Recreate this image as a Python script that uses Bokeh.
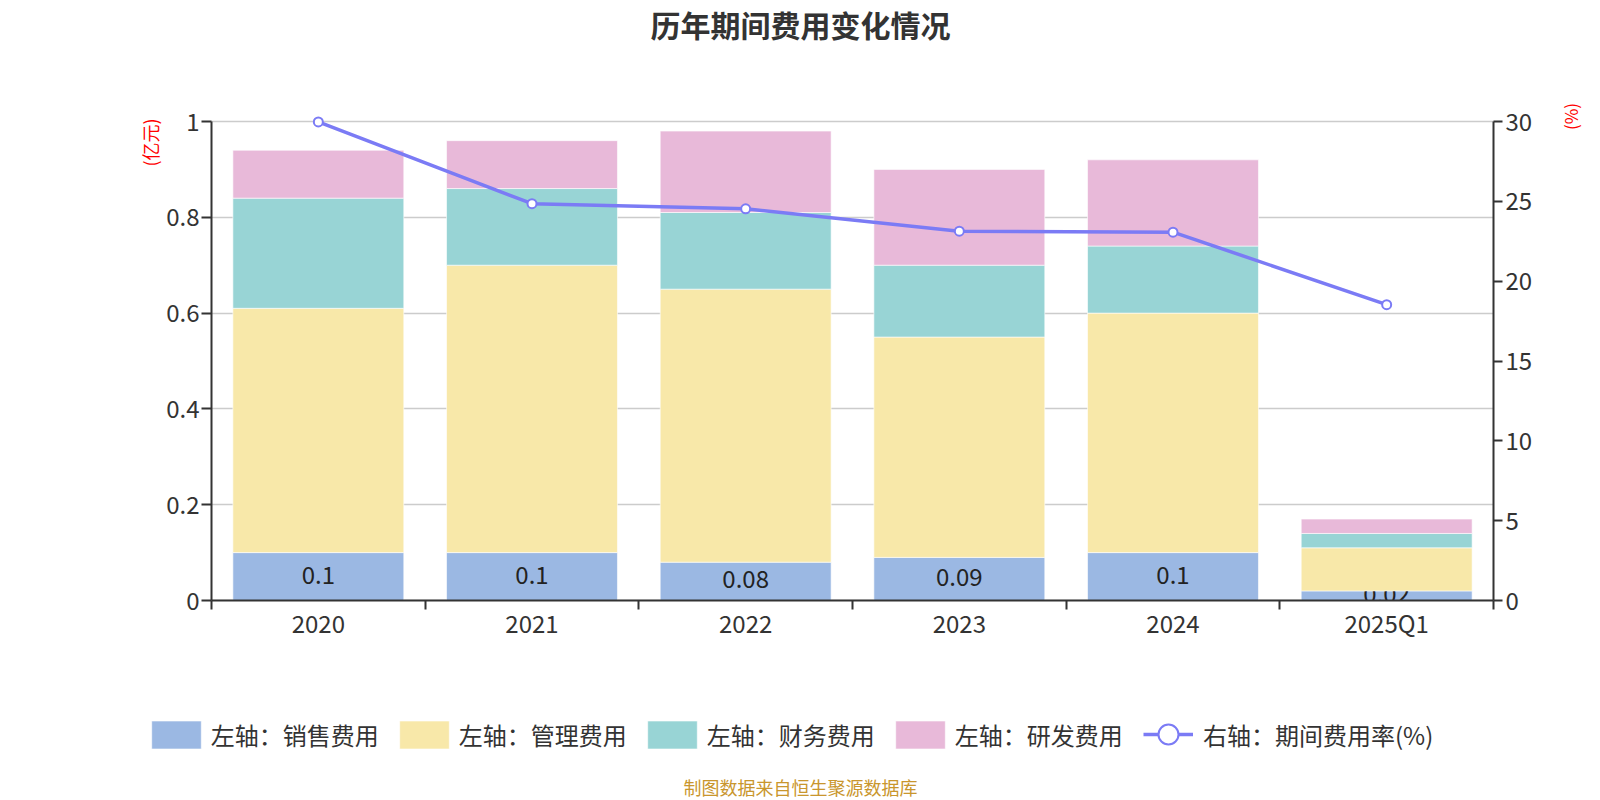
import numpy as np
from bokeh.plotting import figure
from bokeh.models import (Range1d, LinearAxis, FixedTicker, CustomJSTickFormatter,
                          Label, Legend, LegendItem, BoxAnnotation)
from bokeh.core.properties import value
from bokeh.embed import file_html
from bokeh.resources import INLINE

# ---------------- data ----------------
categories = ["2020", "2021", "2022", "2023", "2024", "2025Q1"]
sales = [0.10, 0.10, 0.08, 0.09, 0.10, 0.02]      # 销售费用 (亿元)
admin = [0.51, 0.60, 0.57, 0.46, 0.50, 0.09]      # 管理费用 (亿元)
finance = [0.23, 0.16, 0.16, 0.15, 0.14, 0.03]    # 财务费用 (亿元)
rnd = [0.10, 0.10, 0.17, 0.20, 0.18, 0.03]        # 研发费用 (亿元)
rate = [29.97, 24.85, 24.53, 23.13, 23.07, 18.53]  # 期间费用率 (%)

left_ticks = [0, 0.2, 0.4, 0.6, 0.8, 1.0]
right_ticks = [0, 5, 10, 15, 20, 25, 30]

series_names = ["左轴：销售费用", "左轴：管理费用", "左轴：财务费用", "左轴：研发费用"]
line_name = "右轴：期间费用率(%)"
title_text = "历年期间费用变化情况"
footer_text = "制图数据来自恒生聚源数据库"
left_unit = "(亿元)"
right_unit = "(%)"

# ---------------- layout / style ----------------
W, H = 1600, 800
PLOT_L, PLOT_R, PLOT_T, PLOT_B = 211, 1493, 121, 600   # plotting grid in canvas pixels
FONT = "Noto Sans CJK SC"
C_SALES = "#9bb8e3"
C_ADMIN = "#f8e8a9"
C_FIN = "#98d4d5"
C_RND = "#e8b9d9"
C_LINE = "#7b7bf5"
DARK = "#333333"

n = len(categories)
left_max = left_ticks[-1]
right_max = right_ticks[-1]
x = np.arange(n) + 0.5

# ranges chosen so that the frame is the whole canvas and the grid sits at PLOT_*
px_x = (PLOT_R - PLOT_L) / n
px_l = (PLOT_B - PLOT_T) / left_max
px_r = (PLOT_B - PLOT_T) / right_max
x_range = Range1d(-PLOT_L / px_x, (W - PLOT_L) / px_x)
y_range = Range1d(-(H - PLOT_B) / px_l, PLOT_B / px_l)
r_range = Range1d(-(H - PLOT_B) / px_r, PLOT_B / px_r)

p = figure(width=W, height=H, output_backend="svg", toolbar_location=None, tools="",
           x_range=x_range, y_range=y_range,
           min_border_left=0, min_border_right=0, min_border_top=0, min_border_bottom=0)
p.title.visible = False
p.outline_line_color = None
p.background_fill_color = "white"
p.border_fill_color = "white"
p.xgrid.visible = False
p.ygrid.ticker = FixedTicker(ticks=left_ticks)
p.ygrid.cross_bounds = (0, n)
p.ygrid.grid_line_color = "#cccccc"
p.ygrid.grid_line_width = 1.5

# left axis
ya = p.yaxis[0]
ya.fixed_location = 0
ya.ticker = FixedTicker(ticks=left_ticks)
ya.formatter = CustomJSTickFormatter(code="return String(Math.round(tick*100)/100)")
ya.bounds = (0, left_max)
ya.axis_line_color = DARK
ya.axis_line_width = 2
ya.major_tick_line_color = DARK
ya.major_tick_line_width = 2
ya.major_tick_out = 10
ya.major_tick_in = 0
ya.minor_tick_line_color = None
ya.major_label_standoff = 2
ya.major_label_text_font = FONT
ya.major_label_text_font_size = "24px"
ya.major_label_text_color = DARK

# right axis
p.extra_y_ranges = {"rate": r_range}
ra = LinearAxis(y_range_name="rate", ticker=FixedTicker(ticks=right_ticks),
                bounds=(0, right_max), fixed_location=n)
ra.axis_line_color = DARK
ra.axis_line_width = 2
ra.major_tick_line_color = DARK
ra.major_tick_line_width = 2
ra.major_tick_out = 9
ra.major_tick_in = 0
ra.minor_tick_line_color = None
ra.major_label_standoff = 3
ra.major_label_text_font = FONT
ra.major_label_text_font_size = "24px"
ra.major_label_text_color = DARK
p.add_layout(ra, "right")

# x axis
xa = p.xaxis[0]
xa.fixed_location = 0
xa.bounds = (0, n)
xa.ticker = FixedTicker(ticks=list(x), minor_ticks=list(range(n + 1)))
xa.formatter = CustomJSTickFormatter(args=dict(labels=categories),
                                     code="return labels[Math.floor(tick)]")
xa.axis_line_color = DARK
xa.axis_line_width = 2
xa.major_tick_line_color = None
xa.major_tick_out = 0
xa.major_tick_in = 0
xa.minor_tick_line_color = DARK
xa.minor_tick_line_width = 2
xa.minor_tick_out = 9
xa.minor_tick_in = 0
xa.major_label_standoff = -5
xa.major_label_text_font = FONT
xa.major_label_text_font_size = "24px"
xa.major_label_text_color = DARK

# ---------------- stacked bars ----------------
bar_line = dict(line_color="white", line_alpha=0.6, line_width=1)
b0 = np.zeros(n)
t0 = b0 + np.array(sales)
r_sales = p.vbar(x=x, bottom=b0, top=t0, width=0.8, fill_color=C_SALES, **bar_line)
p.text(x=x, y=(b0 + t0) / 2, text=[f"{v:g}" for v in sales], text_align="center",
       text_baseline="middle", y_offset=-2, text_font=value(FONT), text_font_size="24px",
       text_color="#222222")
# keep value labels inside the plotting grid (mask below the x axis)
mask = BoxAnnotation(top=0, fill_color="white", fill_alpha=1, line_color=None, level="glyph")
p.add_layout(mask)
t1 = t0 + np.array(admin)
r_admin = p.vbar(x=x, bottom=t0, top=t1, width=0.8, fill_color=C_ADMIN, **bar_line)
t2 = t1 + np.array(finance)
r_fin = p.vbar(x=x, bottom=t1, top=t2, width=0.8, fill_color=C_FIN, **bar_line)
t3 = t2 + np.array(rnd)
r_rnd = p.vbar(x=x, bottom=t2, top=t3, width=0.8, fill_color=C_RND, **bar_line)

# ---------------- line ----------------
r_line = p.line(x=x, y=rate, y_range_name="rate", line_color=C_LINE, line_width=3.5)
r_pts = p.scatter(x=x, y=rate, y_range_name="rate", size=9, fill_color="white",
                  line_color=C_LINE, line_width=2)

# ---------------- legends ----------------
leg_common = dict(orientation="horizontal", padding=0, margin=0, border_line_color=None,
                  background_fill_alpha=0, label_text_font=FONT,
                  label_text_font_size="24px", label_text_color=DARK)
leg1 = Legend(items=[LegendItem(label=series_names[0], renderers=[r_sales]),
                     LegendItem(label=series_names[1], renderers=[r_admin]),
                     LegendItem(label=series_names[2], renderers=[r_fin]),
                     LegendItem(label=series_names[3], renderers=[r_rnd])],
              location=(144.75, H - 751.5), glyph_width=62, glyph_height=35,
              label_standoff=4, spacing=14, **leg_common)
p.add_layout(leg1)
leg2 = Legend(items=[LegendItem(label=line_name, renderers=[r_line, r_pts])],
              location=(1143, H - 764), glyph_width=50, glyph_height=60,
              label_standoff=10, spacing=0, **leg_common)
p.add_layout(leg2)

# ---------------- texts ----------------
def screen_label(xc, yc_from_top, text, size, color, bold=False, angle=0.0):
    return Label(x=xc, y=H - yc_from_top, x_units="screen", y_units="screen", text=text,
                 angle=angle, text_align="center", text_baseline="middle", text_font=FONT,
                 text_font_size=size, text_font_style="bold" if bold else "normal",
                 text_color=color)

p.add_layout(screen_label(800, 23.5, title_text, "30px", DARK, bold=True))
p.add_layout(screen_label(149.5, 142, left_unit, "18px", "#ff0000", angle=np.pi / 2))
p.add_layout(screen_label(1570, 116, right_unit, "17px", "#ff0000", angle=np.pi / 2))
p.add_layout(screen_label(800, 786, footer_text, "18px", "#c9962d"))

open("out.html", "w").write(file_html(p, INLINE))
